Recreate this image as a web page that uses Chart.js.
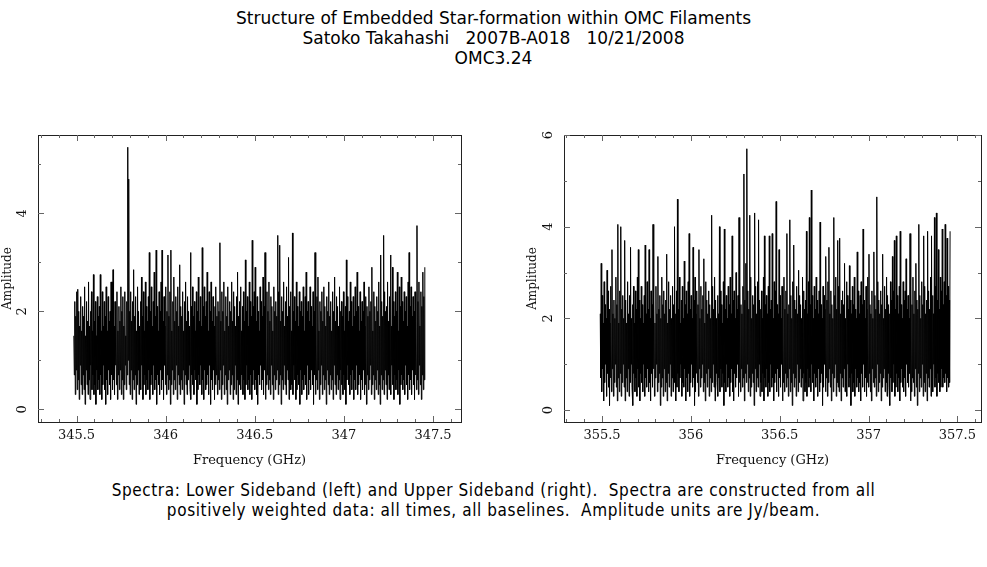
<!DOCTYPE html>
<html>
<head>
<meta charset="utf-8">
<script src="https://cdn.jsdelivr.net/npm/chart.js@4.4.0/dist/chart.umd.min.js"></script>
<style>
  html, body { margin: 0; padding: 0; background: #fff; }
  body { width: 987px; height: 567px; position: relative; overflow: hidden; }
  .titulo { position: absolute; top: 8px; left: 0; width: 987px; text-align: center;
            font-family: "DejaVu Sans"; font-size: 17px; line-height: 20px; color: #000; white-space: pre; }
  .legenda { position: absolute; top: 480px; left: 0; width: 987px; text-align: center;
             font-family: "DejaVu Sans Condensed", "DejaVu Sans"; font-size: 17px; letter-spacing: 0.6px;
             line-height: 20px; color: #000; white-space: pre; }
  .painel { position: absolute; top: 125px; height: 355px; }
</style>
</head>
<body>
<div class="titulo">Structure of Embedded Star-formation within OMC Filaments
Satoko Takahashi   2007B-A018   10/21/2008
OMC3.24</div>

<div class="painel" style="left:0px; width:475px;"><canvas id="graficoLSB"></canvas></div>
<div class="painel" style="left:525px; width:462px;"><canvas id="graficoUSB"></canvas></div>

<div class="legenda">Spectra: Lower Sideband (left) and Upper Sideband (right).  Spectra are constructed from all
positively weighted data: all times, all baselines.  Amplitude units are Jy/beam.</div>

<script>
// Canais: frequência inicial de cada banda e largura do canal (GHz)
const inicioLSB = 345.485;
const inicioUSB = 355.49;
const larguraCanal = 0.00275;

// Amplitudes (Jy/beam), banda inferior
const ampLSB = [
    1.5, 0.7, 2.2, 0.3, 1.9, 0.8, 2.4, 0.4, 2.45, 0.6,
    2.0, 0.2, 1.7, 0.9, 2.3, 0.5, 1.6, 0.3, 2.1, 0.7,
    1.9, 0.4, 2.5, 0.1, 1.5, 0.8, 2.2, 0.5, 1.8, 0.3,
    2.6, 0.6, 1.7, 0.2, 2.0, 0.9, 2.4, 0.4, 1.6, 0.7,
    2.75, 0.3, 1.8, 0.5, 2.2, 0.1, 1.5, 0.8, 2.3, 0.4,
    1.9, 0.6, 2.1, 0.3, 2.75, 0.7, 1.6, 0.2, 2.4, 0.5,
    1.7, 0.9, 2.2, 0.4, 1.9, 0.1, 2.5, 0.6, 1.6, 0.3,
    2.3, 0.8, 1.8, 0.5, 2.0, 0.2, 2.6, 0.7, 2.6, 0.4,
    2.85, 0.6, 1.7, 0.3, 2.2, 0.9, 1.9, 0.5, 2.4, 0.2,
    1.6, 0.7, 2.1, 0.4, 1.8, 0.8, 2.5, 0.3, 2.0, 0.6,
    2.3, 0.2, 1.7, 0.5, 2.4, 0.9, 1.5, 0.4, 2.2, 0.7,
    5.35, 1.0, 4.7, 0.5, 2.0, 0.3, 2.4, 0.8, 1.8, 0.2,
    2.2, 0.6, 2.85, 0.4, 1.9, 0.7, 2.3, 0.1, 1.6, 0.5,
    2.5, 0.8, 2.0, 0.3, 1.7, 0.6, 2.2, 0.4, 2.7, 0.9,
    1.9, 0.2, 2.4, 0.5, 1.6, 0.7, 2.6, 0.3, 2.1, 0.6,
    1.8, 0.4, 2.3, 0.8, 3.2, 0.2, 2.0, 0.5, 2.5, 0.7,
    1.7, 0.3, 2.2, 0.9, 2.8, 0.4, 1.9, 0.6, 3.25, 0.1,
    2.1, 0.7, 1.6, 0.5, 2.4, 0.3, 2.0, 0.8, 2.6, 0.4,
    3.25, 0.6, 1.8, 0.2, 2.3, 0.9, 1.7, 0.5, 2.5, 0.3,
    2.0, 0.7, 3.15, 0.4, 1.9, 0.6, 2.4, 0.1, 3.25, 0.5,
    1.6, 0.8, 2.2, 0.3, 2.7, 0.6, 1.8, 0.4, 2.3, 0.9,
    2.0, 0.2, 2.5, 0.7, 1.7, 0.5, 2.95, 0.3, 2.1, 0.6,
    1.9, 0.4, 2.4, 0.8, 1.6, 0.1, 2.2, 0.7, 2.6, 0.5,
    1.8, 0.3, 2.3, 0.6, 2.0, 0.9, 1.7, 0.4, 3.2, 0.2,
    2.1, 0.7, 2.5, 0.5, 1.9, 0.3, 2.2, 0.8, 1.6, 0.6,
    2.4, 0.1, 2.0, 0.4, 2.7, 0.7, 1.8, 0.5, 2.3, 0.9,
    1.7, 0.3, 3.3, 0.6, 2.1, 0.2, 2.5, 0.8, 1.9, 0.4,
    2.2, 0.5, 2.8, 0.7, 1.6, 0.3, 2.4, 0.9, 2.0, 0.1,
    2.6, 0.6, 1.8, 0.4, 2.3, 0.8, 1.7, 0.2, 2.1, 0.5,
    2.5, 0.7, 1.9, 0.3, 2.2, 0.6, 2.0, 0.4, 3.4, 0.8,
    1.8, 0.2, 2.4, 0.5, 2.0, 0.9, 2.6, 0.3, 1.6, 0.7,
    2.3, 0.4, 1.9, 0.1, 2.5, 0.6, 1.7, 0.8, 2.2, 0.3,
    2.0, 0.5, 2.6, 0.7, 1.8, 0.2, 2.4, 0.4, 2.1, 0.9,
    1.7, 0.3, 2.3, 0.6, 2.8, 0.1, 1.9, 0.5, 2.2, 0.8,
    2.5, 0.4, 1.6, 0.7, 2.1, 0.3, 2.4, 0.6, 1.8, 0.2,
    3.05, 0.5, 2.0, 0.9, 2.3, 0.4, 1.7, 0.6, 2.6, 0.3,
    2.2, 0.7, 1.9, 0.2, 3.45, 0.5, 2.1, 0.8, 2.4, 0.4,
    2.9, 0.6, 1.8, 0.3, 2.3, 0.1, 2.0, 0.7, 1.6, 0.5,
    2.5, 0.9, 2.2, 0.4, 1.9, 0.6, 2.7, 0.3, 2.1, 0.8,
    3.2, 0.2, 1.7, 0.5, 2.4, 0.7, 2.0, 0.4, 2.6, 0.6,
    1.8, 0.3, 2.3, 0.9, 2.1, 0.5, 1.6, 0.2, 2.5, 0.7,
    2.0, 0.4, 2.2, 0.6, 1.9, 0.8, 3.55, 0.3, 2.4, 0.5,
    3.35, 0.7, 1.8, 0.1, 2.3, 0.6, 2.0, 0.4, 2.6, 0.9,
    1.7, 0.5, 2.2, 0.3, 2.5, 0.8, 1.9, 0.6, 3.1, 0.2,
    2.1, 0.7, 2.4, 0.4, 1.6, 0.5, 3.6, 0.3, 2.0, 0.9,
    2.3, 0.6, 1.8, 0.2, 2.6, 0.4, 2.1, 0.7, 1.7, 0.5,
    2.4, 0.1, 2.0, 0.8, 2.2, 0.3, 1.9, 0.6, 2.5, 0.4,
    1.6, 0.7, 2.3, 0.5, 2.8, 0.2, 2.0, 0.9, 2.2, 0.3,
    1.8, 0.6, 2.5, 0.4, 2.1, 0.8, 1.7, 0.5, 2.4, 0.1,
    2.0, 0.7, 3.2, 0.3, 1.9, 0.6, 2.3, 0.4, 2.7, 0.8,
    1.6, 0.2, 2.2, 0.5, 2.0, 0.9, 2.4, 0.3, 1.8, 0.7,
    2.5, 0.4, 2.1, 0.6, 1.7, 0.1, 2.3, 0.8, 2.0, 0.5,
    2.6, 0.3, 1.9, 0.7, 2.2, 0.4, 1.6, 0.6, 2.4, 0.2,
    2.0, 0.9, 2.7, 0.5, 1.8, 0.3, 2.3, 0.7, 2.1, 0.4,
    1.7, 0.6, 2.5, 0.2, 2.0, 0.8, 2.2, 0.5, 1.9, 0.3,
    2.4, 0.7, 1.6, 0.4, 2.1, 0.1, 3.05, 0.6, 2.3, 0.9,
    1.8, 0.5, 2.0, 0.3, 2.6, 0.7, 2.2, 0.4, 1.7, 0.8,
    2.3, 0.2, 1.9, 0.6, 2.5, 0.4, 2.0, 0.9, 2.8, 0.3,
    2.1, 0.5, 1.6, 0.7, 2.4, 0.2, 1.8, 0.6, 2.2, 0.4,
    2.0, 0.8, 2.6, 0.3, 1.7, 0.5, 2.3, 0.1, 2.1, 0.7,
    1.9, 0.4, 2.5, 0.6, 2.0, 0.9, 2.2, 0.3, 2.9, 0.5,
    1.6, 0.7, 2.4, 0.2, 2.1, 0.6, 1.8, 0.4, 2.3, 0.8,
    2.0, 0.3, 2.6, 0.5, 1.7, 0.1, 3.15, 0.7, 2.2, 0.4,
    1.9, 0.6, 3.55, 0.3, 2.4, 0.8, 2.0, 0.5, 2.1, 0.2,
    2.6, 0.7, 1.8, 0.4, 2.3, 0.6, 3.15, 0.3, 1.7, 0.9,
    2.9, 0.5, 2.2, 0.2, 1.9, 0.7, 2.4, 0.4, 2.0, 0.6,
    2.8, 0.3, 1.6, 0.8, 2.5, 0.1, 2.1, 0.5, 2.7, 0.7,
    2.2, 0.4, 1.8, 0.6, 2.4, 0.3, 2.0, 0.9, 2.3, 0.5,
    1.7, 0.2, 2.6, 0.7, 3.2, 0.4, 2.1, 0.6, 2.5, 0.3,
    1.9, 0.8, 2.3, 0.5, 2.0, 0.2, 2.4, 0.7, 1.8, 0.4,
    3.75, 0.6, 2.2, 0.3, 2.6, 0.9, 1.7, 0.5, 2.4, 0.2,
    2.1, 0.7, 2.8, 0.4, 2.3, 0.6, 2.9
];

// Amplitudes (Jy/beam), banda superior
const ampUSB = [
    2.1, 0.7, 3.2, 0.4, 2.5, 0.9, 1.9, 0.2, 2.8, 0.6,
    2.3, 1.0, 2.0, 0.3, 3.05, 0.8, 2.6, 0.5, 2.2, 0.1,
    1.9, 0.7, 2.7, 0.4, 3.5, 0.9, 2.1, 0.3, 2.4, 0.6,
    2.0, 1.0, 2.9, 0.5, 2.3, 0.2, 4.05, 0.7, 1.9, 0.4,
    2.6, 0.8, 4.0, 0.3, 2.2, 0.6, 2.5, 1.0, 2.0, 0.5,
    3.7, 0.2, 2.4, 0.7, 1.9, 0.4, 2.8, 0.9, 2.1, 0.3,
    2.5, 0.6, 3.55, 1.0, 2.0, 0.5, 2.3, 0.1, 2.7, 0.8,
    1.9, 0.4, 2.6, 0.7, 2.2, 0.3, 2.9, 0.9, 3.5, 0.5,
    2.4, 0.2, 2.0, 0.8, 2.7, 0.6, 2.3, 0.4, 1.9, 1.0,
    2.5, 0.3, 3.6, 0.7, 2.1, 0.5, 2.8, 0.9, 2.2, 0.4,
    3.5, 0.6, 2.0, 0.2, 2.6, 0.8, 2.3, 0.5, 4.05, 0.9,
    2.4, 0.3, 1.9, 0.7, 2.7, 1.0, 2.1, 0.4, 3.35, 0.6,
    2.2, 0.8, 2.5, 0.1, 2.0, 0.5, 2.9, 0.7, 2.3, 0.3,
    2.6, 0.9, 2.1, 0.4, 2.4, 0.6, 3.4, 0.2, 1.9, 0.8,
    2.8, 0.5, 2.2, 1.0, 2.5, 0.3, 2.0, 0.7, 2.7, 0.4,
    2.3, 0.6, 4.0, 0.9, 2.1, 0.2, 2.6, 0.5, 4.6, 0.8,
    2.2, 0.4, 2.9, 0.7, 1.9, 1.0, 2.4, 0.3, 2.7, 0.6,
    2.0, 0.5, 3.25, 0.9, 2.3, 0.2, 2.6, 0.7, 2.1, 0.4,
    2.8, 0.8, 3.85, 0.3, 2.2, 0.6, 2.5, 1.0, 2.0, 0.5,
    3.55, 0.7, 2.4, 0.1, 2.9, 0.4, 2.1, 0.8, 2.6, 0.6,
    2.3, 0.3, 3.5, 0.9, 2.0, 0.5, 2.7, 0.7, 2.2, 1.0,
    2.5, 0.4, 3.3, 0.6, 1.9, 0.2, 2.8, 0.8, 2.4, 0.5,
    2.1, 0.9, 2.6, 0.3, 2.3, 0.7, 2.0, 0.4, 4.25, 0.6,
    2.7, 1.0, 2.2, 0.5, 2.9, 0.2, 2.4, 0.8, 2.0, 0.6,
    2.5, 0.3, 2.1, 0.7, 4.0, 0.4, 2.6, 0.9, 2.3, 0.5,
    1.9, 0.8, 2.8, 0.1, 3.95, 0.6, 2.2, 0.4, 2.5, 1.0,
    2.0, 0.5, 2.7, 0.7, 2.3, 0.3, 2.9, 0.6, 2.1, 0.9,
    3.8, 0.4, 2.4, 0.2, 2.6, 0.8, 2.0, 0.5, 3.0, 0.7,
    2.2, 1.0, 2.5, 0.3, 4.2, 0.6, 2.8, 0.4, 2.3, 0.9,
    2.1, 0.5, 2.7, 0.7, 5.15, 0.2, 2.4, 0.8, 3.2, 0.6,
    5.7, 1.0, 2.6, 0.4, 2.2, 0.7, 4.25, 0.3, 2.9, 0.5,
    2.0, 0.8, 2.5, 0.6, 2.3, 0.1, 4.3, 0.9, 2.7, 0.4,
    2.1, 0.7, 2.8, 0.5, 4.15, 1.0, 2.4, 0.3, 2.2, 0.6,
    2.6, 0.4, 2.0, 0.8, 2.9, 0.2, 3.8, 0.7, 2.3, 0.5,
    2.5, 0.9, 2.1, 0.3, 2.7, 0.6, 3.8, 0.4, 2.2, 1.0,
    2.4, 0.5, 3.85, 0.7, 2.0, 0.2, 2.8, 0.6, 2.6, 0.8,
    4.55, 0.4, 2.3, 0.9, 2.1, 0.3, 3.5, 0.7, 2.5, 0.5,
    2.0, 1.0, 2.7, 0.2, 2.4, 0.6, 2.9, 0.4, 2.2, 0.8,
    2.6, 0.5, 3.85, 0.7, 2.1, 0.3, 2.3, 0.9, 4.15, 0.4,
    2.5, 0.6, 2.0, 0.1, 2.8, 0.8, 3.6, 0.5, 2.4, 0.7,
    2.2, 0.3, 2.7, 1.0, 2.1, 0.4, 3.05, 0.6, 2.5, 0.9,
    2.3, 0.5, 2.0, 0.7, 2.9, 0.2, 2.6, 0.8, 2.2, 0.4,
    2.4, 0.6, 3.9, 0.3, 2.1, 0.9, 2.8, 0.5, 4.2, 0.7,
    2.3, 0.4, 4.8, 1.0, 2.5, 0.6, 2.0, 0.2, 2.7, 0.8,
    2.2, 0.5, 2.9, 0.7, 2.4, 0.3, 2.1, 0.9, 2.6, 0.4,
    4.1, 0.6, 2.3, 0.8, 2.0, 0.1, 2.7, 0.5, 2.5, 1.0,
    2.2, 0.4, 3.35, 0.7, 2.4, 0.3, 2.8, 0.6, 3.55, 0.9,
    2.1, 0.5, 2.6, 0.2, 2.3, 0.8, 2.0, 0.4, 4.2, 0.7,
    2.5, 1.0, 2.9, 0.3, 2.2, 0.6, 3.7, 0.5, 2.7, 0.4,
    3.75, 0.8, 2.1, 0.2, 2.4, 0.7, 2.6, 0.5, 2.3, 0.9,
    3.2, 0.4, 2.0, 0.6, 2.8, 0.3, 2.5, 1.0, 2.2, 0.5,
    3.15, 0.7, 2.4, 0.1, 2.1, 0.8, 2.7, 0.4, 2.3, 0.6,
    2.9, 0.3, 2.2, 0.9, 2.0, 0.5, 3.45, 0.7, 2.6, 0.4,
    2.1, 0.6, 2.5, 0.2, 2.8, 0.8, 2.3, 0.5, 3.95, 1.0,
    2.4, 0.4, 2.0, 0.7, 2.7, 0.3, 2.2, 0.6, 2.9, 0.5,
    3.4, 0.8, 2.3, 0.4, 2.1, 0.2, 2.6, 0.9, 2.0, 0.6,
    3.45, 0.5, 2.5, 0.7, 2.2, 0.3, 4.65, 1.0, 2.8, 0.4,
    2.4, 0.6, 2.1, 0.8, 2.6, 0.2, 2.3, 0.5, 3.4, 0.7,
    2.0, 0.9, 2.7, 0.4, 2.2, 0.6, 2.9, 0.3, 2.5, 0.8,
    2.3, 0.5, 2.1, 0.1, 2.8, 0.7, 2.4, 0.4, 3.35, 0.6,
    2.6, 1.0, 3.7, 0.3, 2.2, 0.5, 3.8, 0.8, 2.5, 0.4,
    2.1, 0.7, 2.7, 0.2, 3.9, 0.6, 2.3, 0.9, 2.0, 0.5,
    2.8, 0.4, 2.4, 0.7, 2.6, 0.3, 3.3, 1.0, 2.2, 0.6,
    2.5, 0.5, 2.0, 0.8, 3.85, 0.2, 2.7, 0.4, 2.3, 0.7,
    2.9, 0.6, 2.1, 0.3, 2.6, 0.9, 3.2, 0.5, 2.4, 0.1,
    2.2, 0.8, 4.05, 0.4, 2.5, 0.7, 2.0, 0.5, 2.8, 1.0,
    2.3, 0.3, 3.8, 0.6, 2.7, 0.4, 2.1, 0.8, 2.4, 0.2,
    3.9, 0.7, 2.6, 0.5, 2.2, 0.9, 2.9, 0.3, 3.8, 0.6,
    2.5, 0.4, 2.1, 1.0, 4.2, 0.5, 2.7, 0.7, 4.3, 0.3,
    2.4, 0.8, 3.5, 0.6, 2.2, 0.4, 2.9, 0.5, 2.6, 0.9,
    3.95, 0.5, 2.3, 0.7, 2.8, 0.6, 4.05, 0.8, 2.5, 0.4,
    3.75, 0.7, 2.7, 0.5, 2.4, 0.6, 3.9
];

// Rótulos dos eixos
const ticksXLSB = [345.5, 346, 346.5, 347, 347.5];
const ticksXUSB = [355.5, 356, 356.5, 357, 357.5];
const ticksYLSB = [0, 2, 4];
const ticksYUSB = [0, 2, 4, 6];

Chart.defaults.font.family = '"DejaVu Serif"';
Chart.defaults.font.size = 13;
Chart.defaults.color = '#111';

// Moldura com marcas internas nos quatro lados e rótulos Y girados (estilo PGPLOT)
const moldura = {
    id: 'moldura',
    afterDraw(chart) {
        const { ctx, chartArea: a, scales: { x, y } } = chart;
        const rotulosY = chart.options.plugins.moldura.rotulosY;
        const traco = (x1, y1, x2, y2) => {
            ctx.beginPath(); ctx.moveTo(x1, y1); ctx.lineTo(x2, y2); ctx.stroke();
        };
        ctx.save();
        ctx.lineWidth = 1;
        ctx.strokeStyle = '#222';
        ctx.strokeRect(Math.round(a.left) + 0.5, Math.round(a.top) + 0.5,
                       Math.round(a.right) - Math.round(a.left), Math.round(a.bottom) - Math.round(a.top));
        ctx.strokeStyle = '#666';
        for (let k = Math.ceil(x.min * 10); k <= Math.floor(x.max * 10); k++) {
            const px = Math.round(x.getPixelForValue(k / 10)) + 0.5;
            const len = k % 5 === 0 ? 6 : 3;
            traco(px, a.bottom, px, a.bottom - len);
            traco(px, a.top, px, a.top + len);
        }
        for (let k = Math.ceil(y.min); k <= Math.floor(y.max); k++) {
            const py = Math.round(y.getPixelForValue(k)) + 0.5;
            const len = k % 2 === 0 ? 6 : 3;
            traco(a.left, py, a.left + len, py);
            traco(a.right, py, a.right - len, py);
        }
        ctx.fillStyle = '#111';
        ctx.font = '13px "DejaVu Serif"';
        ctx.textAlign = 'center';
        ctx.textBaseline = 'middle';
        rotulosY.forEach(v => {
            ctx.save();
            ctx.translate(a.left - 15, y.getPixelForValue(v));
            ctx.rotate(-Math.PI / 2);
            ctx.fillText(String(v), 0, 0);
            ctx.restore();
        });
        ctx.restore();
    }
};

// Função para criar o gráfico de um espectro
function criarEspectro(id, inicio, amps, xMin, xMax, yMax, ticksX, ticksY, larguraY, padDireita) {
    const pontos = amps.map((v, i) => ({ x: inicio + i * larguraCanal, y: v }));
    return new Chart(document.getElementById(id), {
        type: 'line',
        data: {
            datasets: [{
                data: pontos,
                borderColor: '#000',
                borderWidth: 1,
                pointRadius: 0,
                tension: 0,
                fill: false
            }]
        },
        options: {
            responsive: true,
            maintainAspectRatio: false,
            animation: false,
            events: [],
            layout: { padding: { top: 10, right: padDireita, left: 0, bottom: 0 } },
            plugins: {
                legend: { display: false },
                tooltip: { enabled: false },
                moldura: { rotulosY: ticksY }
            },
            scales: {
                x: {
                    type: 'linear',
                    min: xMin,
                    max: xMax,
                    grid: { display: false, drawTicks: false },
                    border: { display: false },
                    afterBuildTicks: s => { s.ticks = ticksX.map(v => ({ value: v })); },
                    afterFit: s => { s.height = 58; },
                    ticks: { padding: 6, maxRotation: 0, callback: v => String(v) },
                    title: { display: true, text: 'Frequency (GHz)', padding: { top: 0, bottom: 12 } }
                },
                y: {
                    type: 'linear',
                    min: -0.26,
                    max: yMax,
                    grid: { display: false, drawTicks: false },
                    border: { display: false },
                    ticks: { display: false },
                    afterFit: s => { s.width = larguraY; },
                    title: { display: true, text: 'Amplitude', font: { size: 12 }, padding: { top: 1, bottom: 0 } }
                }
            }
        },
        plugins: [moldura]
    });
}

criarEspectro('graficoLSB', inicioLSB, ampLSB, 345.284, 347.657, 5.6, ticksXLSB, ticksYLSB, 38, 14);
criarEspectro('graficoUSB', inicioUSB, ampUSB, 355.286, 357.633, 6.0, ticksXUSB, ticksYUSB, 39, 6);
</script>
</body>
</html>
